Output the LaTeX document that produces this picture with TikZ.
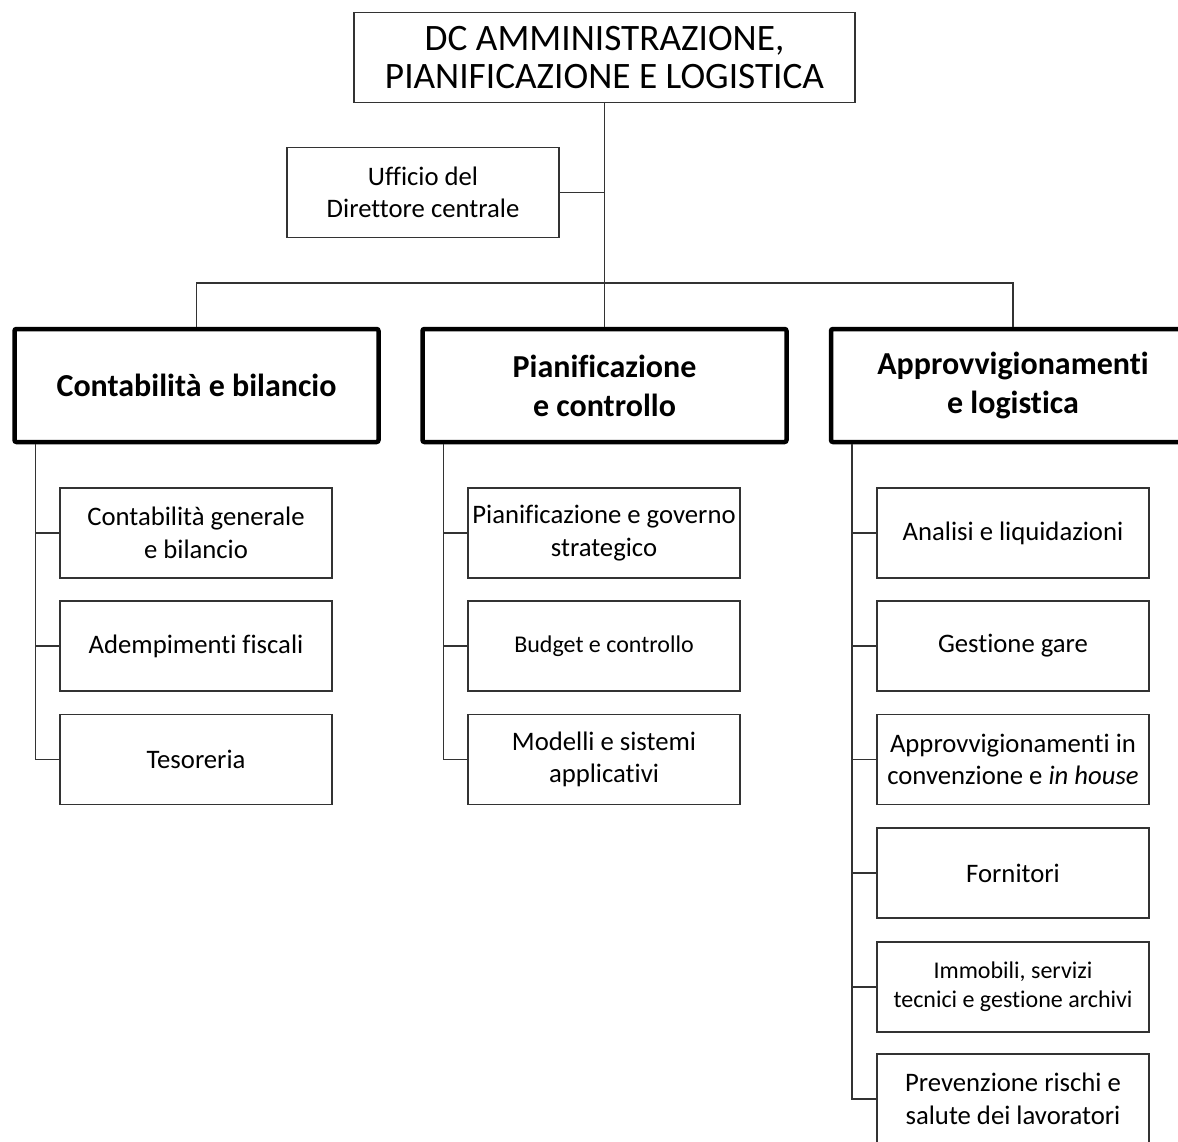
\documentclass[tikz,border=0pt]{standalone}
\usepackage{fontspec}
\setmainfont[Ligatures={NoCommon}]{Carlito}
\begin{document}
\begin{tikzpicture}[x=1pt,y=-1pt,
  box/.style={draw=black!80, line width=1.4pt, fill=white, minimum width=272pt, minimum height=90pt, inner sep=0pt, align=center, font=\fontsize{26.7}{32.5}\selectfont},
  smallbox/.style={box, font=\fontsize{24}{29.3}\selectfont},
  headbox/.style={draw=black, line width=4.5pt, rounded corners=2pt, fill=white, minimum width=364pt, minimum height=113pt, inner sep=0pt, align=center, font=\bfseries\fontsize{32}{39}\selectfont},
  topbox/.style={draw=black!80, line width=1.4pt, fill=white, minimum width=501pt, minimum height=90pt, inner sep=0pt, align=center, font=\fontsize{37.3}{38.5}\selectfont},
  link/.style={draw=black!80, line width=1.5pt}]
\path[use as bounding box] (0,0) rectangle (1178,1142);
\clip (0,0) rectangle (1178,1142);
\coordinate (hb) at (604.5,283);
\node[topbox] (top) at (604.5,57.5) {DC AMMINISTRAZIONE,\\PIANIFICAZIONE E LOGISTICA};
\node[box] (uff) at (423,192.5) {Ufficio del\\Direttore centrale};
\node[headbox] (h1) at (196.5,385.5) {Contabilità e bilancio};
\node[headbox] (h2) at (604.5,385.5) {Pianificazione\\e controllo};
\node[headbox] (h3) at (1013,385.5) {Approvvigionamenti\\e logistica};
% left column
\node[box] (a1) at (196,533) {Contabilità generale\\e bilancio};
\node[box] (a2) at (196,646) {Adempimenti fiscali};
\node[box] (a3) at (196,759.5) {Tesoreria};
% middle column
\node[box] (b1) at (604,533) {Pianificazione e governo\\strategico};
\node[smallbox] (b2) at (604,646) {Budget e controllo};
\node[box] (b3) at (604,759.5) {Modelli e sistemi\\applicativi};
% right column
\node[box] (c1) at (1013,533) {Analisi e liquidazioni};
\node[box] (c2) at (1013,646) {Gestione gare};
\node[box] (c3) at (1013,759.5) {Approvvigionamenti in\\convenzione e \textit{in house}};
\node[box] (c4) at (1013,873) {Fornitori};
\node[smallbox] (c5) at (1013,987) {Immobili, servizi\\tecnici e gestione archivi};
\node[box] (c6) at (1013,1099) {Prevenzione rischi e\\salute dei lavoratori};
% links
\path[link] (top.south) -- (h2.north);
\path[link] (uff.east) -- (uff.east -| top.south);
\path[link] (h1.north) -- (h1.north |- hb) -- (h3.north |- hb) -- (h3.north);
\coordinate (lx) at ([xshift=23pt]h1.south west);
\coordinate (mx) at ([xshift=23pt]h2.south west);
\coordinate (rx) at ([xshift=23pt]h3.south west);
\path[link] (lx) |- (a3.west);
\path[link] (lx |- a1.west) -- (a1.west);
\path[link] (lx |- a2.west) -- (a2.west);
\path[link] (mx) |- (b3.west);
\path[link] (mx |- b1.west) -- (b1.west);
\path[link] (mx |- b2.west) -- (b2.west);
\path[link] (rx) |- (c6.west);
\path[link] (rx |- c1.west) -- (c1.west);
\path[link] (rx |- c2.west) -- (c2.west);
\path[link] (rx |- c3.west) -- (c3.west);
\path[link] (rx |- c4.west) -- (c4.west);
\path[link] (rx |- c5.west) -- (c5.west);
\end{tikzpicture}
\end{document}
